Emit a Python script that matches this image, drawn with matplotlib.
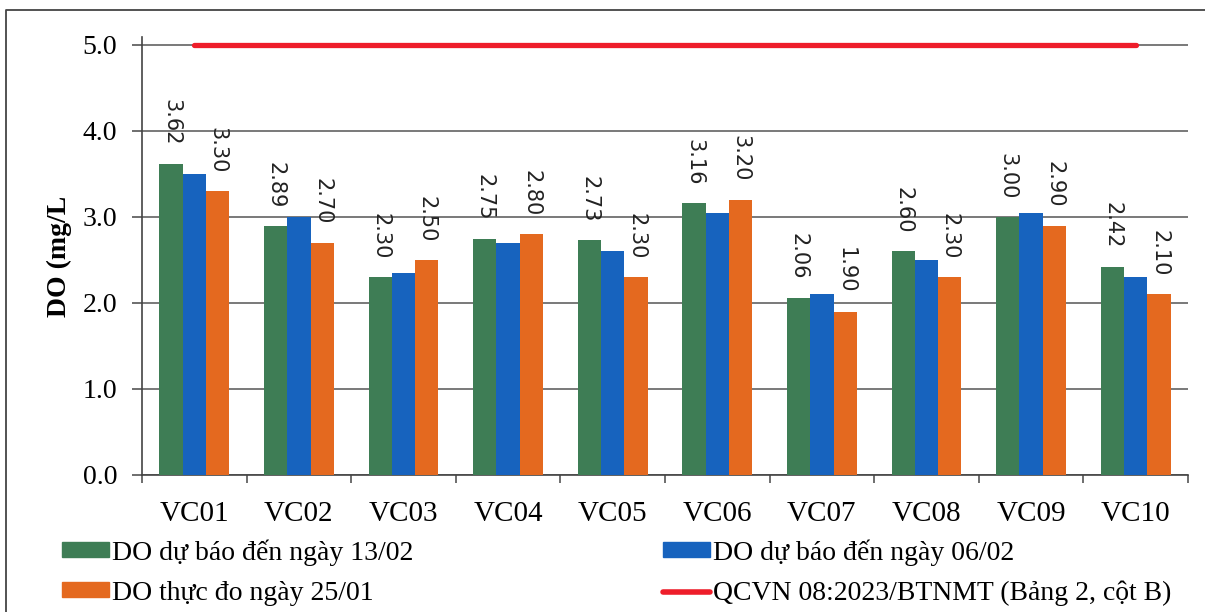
import matplotlib
matplotlib.use("Agg")
import matplotlib.pyplot as plt
import numpy as np
from matplotlib.lines import Line2D
from matplotlib.patches import Patch

categories = ["VC01", "VC02", "VC03", "VC04", "VC05", "VC06", "VC07", "VC08", "VC09", "VC10"]
do_13_02 = [3.62, 2.89, 2.30, 2.75, 2.73, 3.16, 2.06, 2.60, 3.00, 2.42]
do_06_02 = [3.50, 3.00, 2.35, 2.70, 2.60, 3.05, 2.10, 2.50, 3.05, 2.30]
do_25_01 = [3.30, 2.70, 2.50, 2.80, 2.30, 3.20, 1.90, 2.30, 2.90, 2.10]
qcvn = [5.0] * 10
yticks = [0.0, 1.0, 2.0, 3.0, 4.0, 5.0]

labels = ["DO dự báo đến ngày 13/02", "DO dự báo đến ngày 06/02",
          "DO thực đo ngày 25/01", "QCVN 08:2023/BTNMT (Bảng 2, cột B)"]

c_green = "#3e7d55"
c_blue = "#1763be"
c_orange = "#e4691f"
c_red = "#ee1d2a"
grid_c = "#555555"

serif = ["Liberation Serif", "DejaVu Serif"]

W, H = 1205, 612
fig = plt.figure(figsize=(W / 100, H / 100), dpi=100)
ax_l, ax_r = 142 / W, 1188 / W
ax_b, ax_t = (H - 475) / H, (H - 37) / H
ax = fig.add_axes([ax_l, ax_b, ax_r - ax_l, ax_t - ax_b])

x = np.arange(len(categories))
bw = 0.223
b1 = ax.bar(x - bw, do_13_02, bw, color=c_green, zorder=3)
b2 = ax.bar(x, do_06_02, bw, color=c_blue, zorder=3)
b3 = ax.bar(x + bw, do_25_01, bw, color=c_orange, zorder=3)
ax.plot(x, qcvn, color=c_red, lw=3.8, solid_capstyle="round", zorder=4)

for bars, vals in ((b1, do_13_02), (b3, do_25_01)):
    for rect, v in zip(bars, vals):
        ax.annotate(f"{v:.2f}", (rect.get_x() + rect.get_width() / 2, v),
                    xytext=(0, 13), textcoords="offset points",
                    rotation=-90, ha="center", va="bottom",
                    fontsize=15, family="DejaVu Sans", color="#222222", zorder=5)

ax.set_xlim(-0.5, len(categories) - 0.5)
ax.set_ylim(0, 5 + 8 / 86)
ax.set_yticks(yticks)
ax.set_yticklabels([f"{t:.1f}" for t in yticks], family=serif, fontsize=20)
ax.set_xticks(x)
ax.set_xticklabels(categories, family=serif, fontsize=21)
ax.set_xticks(np.arange(-0.5, len(categories)), minor=True)
ax.tick_params(axis="x", which="major", length=0, pad=19)
ax.tick_params(axis="x", which="minor", length=6, width=1.2, color=grid_c, direction="out")
ax.tick_params(axis="y", length=7, width=1.2, color=grid_c, pad=11)
ax.grid(axis="y", color=grid_c, lw=1.1, zorder=0)
for s in ("top", "right"):
    ax.spines[s].set_visible(False)
for s in ("left", "bottom"):
    ax.spines[s].set_color("#444444")
    ax.spines[s].set_linewidth(1.2)
ax.set_ylabel("DO (mg/L", family=serif, fontsize=20, fontweight="bold")
ax.yaxis.set_label_coords(-70 / (1188 - 142), 0.5)

h_green = Patch(color=c_green)
h_blue = Patch(color=c_blue)
h_orange = Patch(color=c_orange)
h_red = Line2D([], [], color=c_red, lw=4, solid_capstyle="round")

kw = dict(frameon=False, prop={"family": serif, "size": 20}, handlelength=1.7,
          handleheight=0.45, handletextpad=0.1, labelspacing=0.55, borderpad=0,
          borderaxespad=0, loc="upper left")
leg1 = fig.legend([h_green, h_orange], [labels[0], labels[2]],
                  bbox_to_anchor=(62 / W, 1 - 539 / H), **kw)
leg2 = fig.legend([h_blue, h_red], [labels[1], labels[3]],
                  bbox_to_anchor=(663 / W, 1 - 539 / H), **kw)

fig.add_artist(Line2D([6 / W, 6 / W, 1.0], [0.0, 1 - 10 / H, 1 - 10 / H],
                      transform=fig.transFigure, color="#444444", lw=1.3))

fig.savefig("out.png", dpi=100)
